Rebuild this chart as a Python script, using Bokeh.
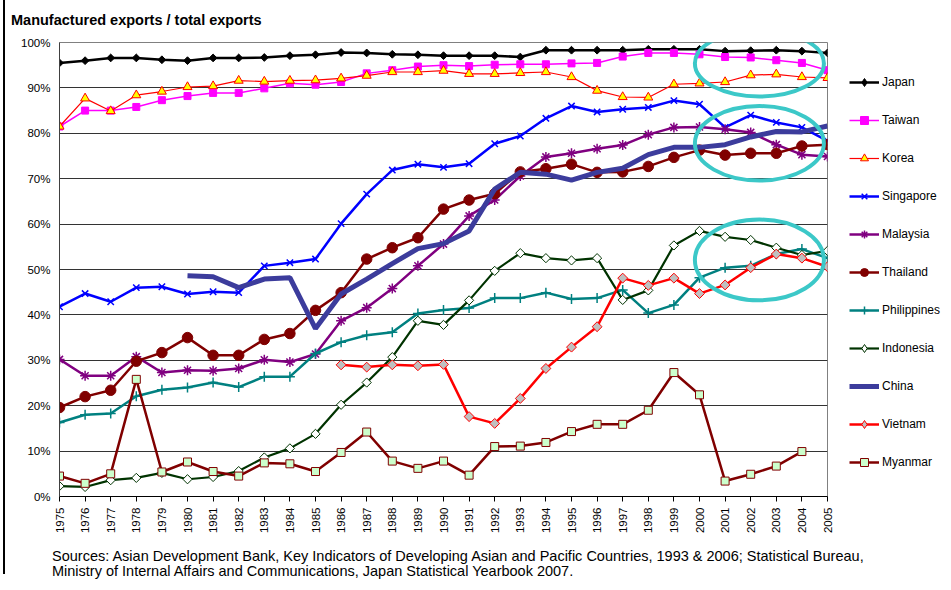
import math
import numpy as np
from bokeh.plotting import figure
from bokeh.models import (ColumnDataSource, FixedTicker, PrintfTickFormatter,
                          Legend, LegendItem, Div)
from bokeh.layouts import column, row
from bokeh.embed import file_html
from bokeh.resources import INLINE

years = list(range(1975, 2006))

japan = [95.5, 96.0, 96.6, 96.6, 96.2, 96.0, 96.6, 96.6, 96.7, 97.1,
         97.3, 97.8, 97.7, 97.4, 97.3, 97.1, 97.1, 97.1, 96.8, 98.3,
         98.3, 98.3, 98.3, 98.5, 98.5, 98.5, 98.1, 98.2, 98.3, 98.1, 97.7]
taiwan = [81.5, 85.0, 85.0, 85.8, 87.3, 88.2, 88.9, 88.9, 89.9, 91.0,
          90.7, 91.3, 93.2, 93.9, 94.7, 95.0, 94.8, 95.1, 95.2, 95.2,
          95.4, 95.5, 96.9, 97.7, 97.7, 97.4, 96.8, 96.7, 96.1, 95.5, 93.9]
korea = [81.5, 87.7, 84.9, 88.4, 89.2, 90.2, 90.4, 91.6, 91.4, 91.6,
         91.7, 92.1, 92.7, 93.5, 93.5, 93.8, 93.1, 93.1, 93.3, 93.5,
         92.4, 89.4, 88.0, 87.9, 90.8, 91.0, 91.3, 92.8, 93.0, 92.4, 92.2]
singapore = [41.8, 44.7, 42.9, 46.0, 46.2, 44.6, 45.1, 44.9, 50.8, 51.5,
             52.3, 60.1, 66.6, 71.9, 73.2, 72.5, 73.3, 77.7, 79.4, 83.3,
             86.0, 84.7, 85.3, 85.7, 87.2, 86.4, 81.3, 84.0, 82.4, 81.3, 78.3]
malaysia = [30.2, 26.6, 26.6, 30.8, 27.3, 27.8, 27.7, 28.2, 30.1, 29.6,
            31.4, 38.7, 41.6, 45.8, 50.8, 55.6, 61.8, 65.3, 70.6, 74.8,
            75.6, 76.6, 77.4, 79.7, 81.3, 81.4, 80.9, 80.2, 77.5, 75.3, 74.9]
thailand = [19.6, 22.0, 23.4, 29.8, 31.7, 35.0, 31.1, 31.1, 34.6, 35.9,
            41.0, 44.9, 52.3, 54.8, 57.0, 63.3, 65.3, 66.7, 71.5, 72.2,
            73.2, 71.4, 71.5, 72.7, 74.7, 76.3, 75.2, 75.6, 75.6, 77.2, 77.5]
philippines = [16.3, 18.0, 18.3, 22.1, 23.5, 24.0, 25.1, 24.1, 26.4, 26.4,
               31.5, 34.0, 35.5, 36.2, 40.3, 41.1, 41.5, 43.7, 43.7, 44.9,
               43.5, 43.7, 45.5, 40.4, 42.2, 48.2, 50.4, 50.8, 53.4, 54.5, 52.5]
indonesia = [2.3, 2.1, 3.6, 4.1, 5.2, 3.8, 4.3, 5.6, 8.6, 10.6,
             13.8, 20.2, 25.1, 30.7, 38.7, 37.8, 43.2, 49.7, 53.6, 52.5,
             52.0, 52.5, 43.3, 45.4, 55.3, 58.5, 57.2, 56.5, 54.8, 53.2, 54.1]
china = [None, None, None, None, None, 48.6, 48.4, 46.0, 47.9, 48.2,
         37.0, 44.6, 47.9, 51.3, 54.6, 55.7, 58.5, 67.7, 71.4, 71.0,
         69.7, 71.4, 72.3, 75.3, 76.9, 76.9, 77.5, 79.2, 80.4, 80.3, 81.6]
vietnam = [None, None, None, None, None, None, None, None, None, None,
           None, 29.0, 28.5, 29.0, 28.8, 29.1, 17.6, 16.1, 21.6, 28.2,
           32.9, 37.4, 48.1, 46.5, 48.1, 44.7, 46.6, 50.4, 53.4, 52.5, 50.6]
myanmar = [4.5, 2.9, 5.0, 25.8, 5.4, 7.6, 5.5, 4.5, 7.4, 7.2,
           5.5, 9.7, 14.2, 7.8, 6.2, 7.8, 4.7, 11.0, 11.1, 11.9,
           14.3, 15.9, 15.9, 19.0, 27.3, 22.4, 3.4, 4.9, 6.7, 9.9, None]

# highlight ellipses (data units: year, percent)
ell_x = [2002.34, 2002.34, 2002.34]
ell_y = [95.4, 77.8, 52.1]
ell_w = [5.04, 5.04, 5.04]
ell_h = [14.6, 16.4, 17.8]

title_text = "Manufactured exports / total exports"
source_lines = [
    "Sources: Asian Development Bank, Key Indicators of Developing Asian and Pacific Countries, 1993 &amp; 2006; Statistical Bureau,",
    "Ministry of Internal Affairs and Communications, Japan Statistical Yearbook 2007.",
]

FONT = "Liberation Sans"

p = figure(width=832, height=510, title=None,
           min_border_left=54, min_border_right=10,
           min_border_top=14, min_border_bottom=42,
           x_range=(1975, 2005), y_range=(0, 100),
           output_backend="svg", toolbar_location=None)
p.background_fill_color = "white"
p.border_fill_color = "white"
p.outline_line_color = "#808080"
p.outline_line_width = 1

p.xgrid.visible = False
p.ygrid.grid_line_color = "#333333"
p.ygrid.grid_line_width = 1
p.ygrid.ticker = FixedTicker(ticks=list(range(0, 101, 10)))

p.xaxis.ticker = FixedTicker(ticks=years)
p.xaxis.major_label_orientation = math.pi / 2
p.xaxis.major_tick_in = 0
p.xaxis.major_tick_out = 5
p.xaxis.minor_tick_line_color = None
p.xaxis.axis_line_color = "black"
p.xaxis.major_tick_line_color = "black"
p.xaxis.major_label_standoff = 6
p.xaxis.major_label_text_font = FONT
p.xaxis.major_label_text_font_size = "11.5px"
p.xaxis.major_label_text_color = "black"

p.yaxis.ticker = FixedTicker(ticks=list(range(0, 101, 10)))
p.yaxis.formatter = PrintfTickFormatter(format="%d%%")
p.yaxis.major_tick_in = 0
p.yaxis.major_tick_out = 0
p.yaxis.minor_tick_line_color = None
p.yaxis.axis_line_color = "#404040"
p.yaxis.major_label_standoff = 9
p.yaxis.major_label_text_font = FONT
p.yaxis.major_label_text_font_size = "11.5px"
p.yaxis.major_label_text_color = "black"

# separate panel that holds the legend (to the right of the plot)
pl = figure(width=106, height=510, title=None, x_range=(0, 1), y_range=(0, 1),
            x_axis_type=None, y_axis_type=None,
            min_border_left=0, min_border_right=0, min_border_top=0, min_border_bottom=0,
            output_backend="svg", toolbar_location=None)
pl.grid.visible = False
pl.outline_line_color = None
pl.background_fill_color = "white"
pl.border_fill_color = "white"


def arr(v):
    return np.array([np.nan if a is None else a for a in v], dtype=float)


series = [
    # name, values, line color, line width, marker, size, fill, marker line color, angle, legend marker, legend size
    ("Japan", japan, "#000000", 2.5, "square", 5.5, "#000000", "#000000", math.pi / 4, "diamond", 10),
    ("Taiwan", taiwan, "#FF00FF", 1.5, "square", 7, "#FF00FF", "#FF00FF", 0, "square", 7),
    ("Korea", korea, "#FF0000", 1.2, "triangle", 9, "#FFFF00", "#FF0000", 0, "triangle", 9),
    ("Singapore", singapore, "#0000FF", 2.5, "x", 9, None, "#0000FF", 0, "x", 9),
    ("Malaysia", malaysia, "#800080", 2.5, "asterisk", 10, None, "#800080", 0, "asterisk", 10),
    ("Thailand", thailand, "#800000", 2.5, "circle", 10.5, "#800000", "#800000", 0, "circle", 10.5),
    ("Philippines", philippines, "#008080", 2.5, "cross", 10, None, "#008080", 0, "cross", 10),
    ("Indonesia", indonesia, "#003300", 2.2, "square", 6.5, "#FFFFFF", "#003300", math.pi / 4, "diamond", 11),
    ("China", china, "#3C3C9C", 5, None, 0, None, None, 0, None, 0),
    ("Vietnam", vietnam, "#FF0000", 2.5, "square", 7, "#C0C0C0", "#FF0000", math.pi / 4, "diamond", 12),
    ("Myanmar", myanmar, "#800000", 2.5, "square", 8, "#CCFFCC", "#800000", 0, "square", 8),
]

items = []
for name, vals, lc, lw, mk, ms, fc, mlc, ang, lmk, lms in series:
    src = ColumnDataSource(dict(x=years, y=arr(vals)))
    # legend-only source: a single NaN point so nothing is drawn in the panel itself
    key = ColumnDataSource(dict(x=[np.nan], y=[np.nan]))
    p.line("x", "y", source=src, line_color=lc, line_width=lw)
    rs = [pl.line("x", "y", source=key, line_color=lc, line_width=lw)]
    if mk is not None:
        mlw = 1.5 if mk in ("x", "asterisk", "cross") else 1
        p.scatter("x", "y", source=src, marker=mk, size=ms, angle=ang,
                  fill_color=fc, line_color=mlc, line_width=mlw)
        rs.append(pl.scatter("x", "y", source=key, marker=lmk, size=lms,
                             fill_color=fc, line_color=mlc, line_width=mlw))
    items.append(LegendItem(label=name, renderers=rs, index=0))

p.ellipse(x=ell_x, y=ell_y, width=ell_w, height=ell_h,
          fill_color=None, line_color="#3CC8C8", line_width=4)

legend = Legend(items=items, location=(12, 24), orientation="vertical",
                glyph_width=30, glyph_height=20, label_height=20, spacing=18,
                label_standoff=3, padding=0, margin=0,
                border_line_color=None, background_fill_alpha=0,
                label_text_font=FONT, label_text_font_size="12px",
                label_text_color="black")
pl.add_layout(legend, "center")

head = Div(text=title_text, width=938, height=28, margin=(0, 0, 0, 0),
           styles={"font-family": FONT, "font-size": "14.5px", "font-weight": "bold",
                   "line-height": "18px", "padding-left": "6px", "padding-top": "11px",
                   "white-space": "nowrap", "color": "black", "box-sizing": "border-box",
                   "overflow": "visible"})

foot = Div(text="<br>".join(source_lines), width=938, height=36, margin=(0, 0, 0, 0),
           styles={"font-family": FONT, "font-size": "14.5px", "line-height": "15px",
                   "padding-left": "47px", "padding-top": "11px", "white-space": "nowrap",
                   "color": "black", "box-sizing": "border-box", "overflow": "visible"})

gap = Div(text="", width=3, height=574, margin=(0, 0, 0, 0))
edge = Div(text="", width=2, height=574, margin=(0, 0, 0, 0),
           styles={"background-color": "black"})

layout = row(gap, edge,
             column(head, row(p, pl, spacing=0), foot, spacing=0),
             spacing=0)

open("out.html", "w").write(file_html(layout, INLINE))
